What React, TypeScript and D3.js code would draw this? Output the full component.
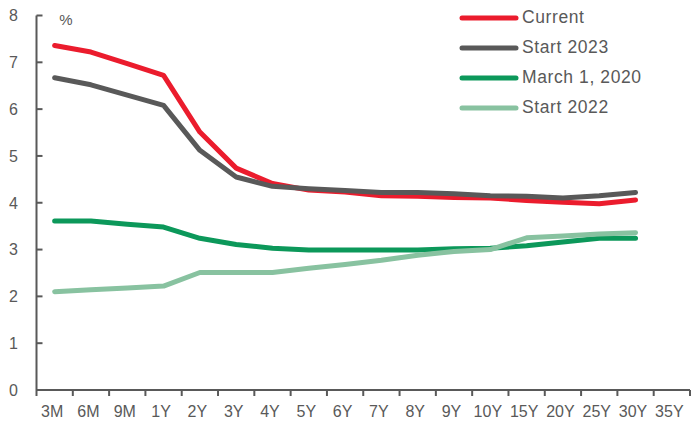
import React from "react";
import * as d3 from "d3";

const categories = ["3M","6M","9M","1Y","2Y","3Y","4Y","5Y","6Y","7Y","8Y","9Y","10Y","15Y","20Y","25Y","30Y","35Y"];
const seriesNames = ["Current", "Start 2023", "March 1, 2020", "Start 2022"];
const current = [7.36, 7.22, 6.97, 6.72, 5.51, 4.74, 4.41, 4.27, 4.23, 4.15, 4.14, 4.11, 4.10, 4.05, 4.01, 3.98, 4.06];
const start2023 = [6.67, 6.52, 6.30, 6.08, 5.12, 4.55, 4.35, 4.30, 4.26, 4.22, 4.22, 4.19, 4.15, 4.14, 4.10, 4.15, 4.22];
const march2020 = [3.61, 3.61, 3.54, 3.48, 3.24, 3.11, 3.03, 2.99, 2.99, 2.99, 2.99, 3.02, 3.03, 3.08, 3.16, 3.24, 3.24];
const start2022 = [2.10, 2.14, 2.18, 2.22, 2.51, 2.51, 2.51, 2.60, 2.68, 2.77, 2.88, 2.96, 3.00, 3.25, 3.29, 3.33, 3.36];
const yTicks = [0, 1, 2, 3, 4, 5, 6, 7, 8];

const colors = ["#EB1C2D", "#595959", "#0C985A", "#88C2A0"];
const allSeries = [current, start2023, march2020, start2022];

export default function App() {
  const W = 691, H = 422;
  const x0 = 36.5, x1 = 690, yBottom = 390, yTop = 15.5;
  const x = d3.scaleBand<string>().domain(categories).range([x0, x1]).padding(0);
  const y = d3.scaleLinear().domain([0, 8]).range([yBottom, yTop]);
  const line = d3.line<number>()
    .x((_, i) => (x(categories[i]) as number) + x.bandwidth() / 2)
    .y((d) => y(d));
  const axisColor = "#595959";
  const font = "'Liberation Sans', Arial, sans-serif";
  const boundaries = categories.map((c) => x(c) as number).concat([x1]);

  return (
    <svg width={W} height={H} style={{ position: "absolute", left: 0, top: 0, background: "#fff" }} fontFamily={font}>
      {/* y axis */}
      <line x1={x0} x2={x0} y1={yTop} y2={yBottom} stroke={axisColor} strokeWidth={2} />
      {yTicks.map((t) => (
        <g key={t}>
          <line x1={x0} x2={x0 + 6} y1={y(t)} y2={y(t)} stroke={axisColor} strokeWidth={2} />
          <text x={18} y={y(t)} dy="0.36em" textAnchor="end" fontSize={16} fill={axisColor}>{t}</text>
        </g>
      ))}
      <text x={66} y={25} textAnchor="middle" fontSize={15} fill={axisColor}>%</text>
      {/* x axis */}
      <line x1={x0} x2={x1} y1={yBottom} y2={yBottom} stroke={axisColor} strokeWidth={2} />
      {boundaries.map((b, i) => (
        <line key={i} x1={b} x2={b} y1={yBottom} y2={yBottom + 6} stroke={axisColor} strokeWidth={2} />
      ))}
      {categories.map((c) => (
        <text key={c} x={(x(c) as number) + x.bandwidth() / 2 - 2.5} y={417} textAnchor="middle" fontSize={16} fill={axisColor}>{c}</text>
      ))}
      {/* lines */}
      {allSeries.map((s, i) => (
        <path key={i} d={line(s) || ""} fill="none" stroke={colors[i]} strokeWidth={5} strokeLinejoin="round" strokeLinecap="round" />
      ))}
      {/* legend */}
      {seriesNames.map((n, i) => {
        const ly = 18 + i * 30;
        return (
          <g key={n}>
            <line x1={462} x2={516} y1={ly} y2={ly} stroke={colors[i]} strokeWidth={5} strokeLinecap="round" />
            <text x={522} y={ly + 5} fontSize={17.5} fill={axisColor} letterSpacing={0.6}>{n}</text>
          </g>
        );
      })}
    </svg>
  );
}
